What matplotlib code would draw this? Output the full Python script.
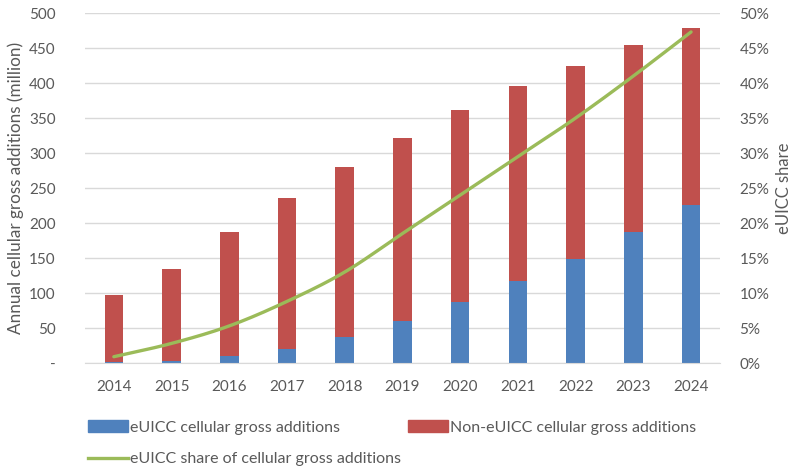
import numpy as np
import matplotlib
matplotlib.use('Agg')
import matplotlib.pyplot as plt
from matplotlib.patches import Patch
from matplotlib.lines import Line2D

plt.rcParams['font.family'] = ['Lato', 'DejaVu Sans']

# data
years = ['2014', '2015', '2016', '2017', '2018', '2019', '2020', '2021', '2022', '2023', '2024']
euicc = [1, 3, 10, 20, 37, 60, 87, 117, 149, 187, 226]
total = [97, 134, 187, 236, 280, 322, 362, 396, 425, 454, 478]
share = [0.9, 2.8, 5.3, 8.8, 13.0, 18.5, 24.0, 29.5, 35.0, 41.0, 47.3]

non_euicc = [t - e for t, e in zip(total, euicc)]

blue = '#4f81bd'
red = '#c0504d'
green = '#9bbb59'
grey = '#595959'


def smooth(x, y, n=20):
    # catmull-rom style smoothing, like excel's "smoothed line"
    x = np.asarray(x, float)
    y = np.asarray(y, float)
    px = np.concatenate([[2 * x[0] - x[1]], x, [2 * x[-1] - x[-2]]])
    py = np.concatenate([[2 * y[0] - y[1]], y, [2 * y[-1] - y[-2]]])
    xs, ys = [], []
    for i in range(1, len(px) - 2):
        t = np.linspace(0, 1, n, endpoint=False)
        for p, out in ((px, xs), (py, ys)):
            p0, p1, p2, p3 = p[i - 1], p[i], p[i + 1], p[i + 2]
            out.extend(0.5 * ((2 * p1) + (-p0 + p2) * t
                              + (2 * p0 - 5 * p1 + 4 * p2 - p3) * t ** 2
                              + (-p0 + 3 * p1 - 3 * p2 + p3) * t ** 3))
    xs.append(x[-1])
    ys.append(y[-1])
    return np.array(xs), np.array(ys)


fig = plt.figure(figsize=(7.92, 4.66), dpi=100)
ax = fig.add_axes([0.1073, 0.221, 0.8017, 0.751])
x = np.arange(len(years))

ax.bar(x, euicc, width=0.32, color=blue, zorder=2)
ax.bar(x, non_euicc, width=0.32, bottom=euicc, color=red, zorder=2)

ax.set_xlim(-0.5, len(years) - 0.5)
ax.set_ylim(0, 500)
ax.set_yticks(range(0, 501, 50))
ax.set_yticklabels(['-'] + [str(v) for v in range(50, 501, 50)])
ax.set_xticks(x)
ax.set_xticklabels(years)
ax.yaxis.grid(True, color='#d9d9d9', linewidth=1, zorder=0)
ax.set_axisbelow(True)
for s in ['top', 'left', 'right']:
    ax.spines[s].set_visible(False)
ax.spines['bottom'].set_color('#d9d9d9')
ax.tick_params(length=0, labelsize=11, colors=grey)
ax.tick_params(axis='y', pad=21)
ax.tick_params(axis='x', pad=12)
ax.set_ylabel('Annual cellular gross additions (million)', fontsize=12.3, color=grey, labelpad=4)

ax2 = ax.twinx()
sx, sy = smooth(x, share)
ax2.plot(sx, sy, color=green, linewidth=2.4, solid_capstyle='round', zorder=3)
ax2.set_ylim(0, 50)
ax2.set_yticks(range(0, 51, 5))
ax2.set_yticklabels([f'{v}%' for v in range(0, 51, 5)])
for s in ['top', 'left', 'right', 'bottom']:
    ax2.spines[s].set_visible(False)
ax2.tick_params(length=0, labelsize=11, colors=grey, pad=14)
ax2.set_ylabel('eUICC share', fontsize=12, color=grey, labelpad=5)

handles = [Patch(color=blue), Line2D([], [], color=green, linewidth=2.4), Patch(color=red)]
labels = ['eUICC cellular gross additions', 'eUICC share of cellular gross additions',
          'Non-eUICC cellular gross additions']
leg = fig.legend(handles, labels, ncol=2, loc='upper left', bbox_to_anchor=(0.111, 0.098),
                 frameon=False, fontsize=11.5, handlelength=2.5, handletextpad=0.12,
                 labelspacing=1.1, columnspacing=0.45, borderpad=0, borderaxespad=0)
for t in leg.get_texts():
    t.set_color(grey)

fig.savefig('out.png', dpi=100)
